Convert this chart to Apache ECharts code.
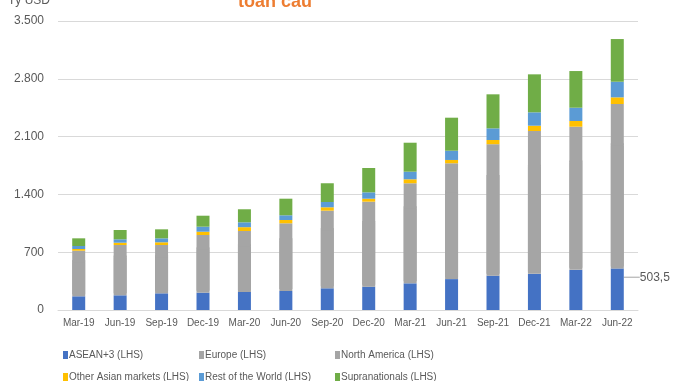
<!DOCTYPE html>
<html>
<head>
<meta charset="utf-8">
<script src="https://cdn.jsdelivr.net/npm/echarts@6/dist/echarts.min.js"></script>
<style>html,body{margin:0;padding:0;background:#fff}#c{width:678px;height:381px}</style>
</head>
<body>
<div id="c"></div>
<script>
const categories = ['Mar-19','Jun-19','Sep-19','Dec-19','Mar-20','Jun-20','Sep-20','Dec-20','Mar-21','Jun-21','Sep-21','Dec-21','Mar-22','Jun-22'];
const asean = [166,178,202,210,218,230,263,282,323,374,415,438,486,503.5];
const europe = [414,457,439,524,554,615,705,773,909,1052,1195,1298,1301,1493];
const northAmerica = [138,152,146,174,185,205,235,257,303,351,398,432,433,498];
const otherAsian = [21,28,33,40,46,40,41,36,48,40,51,64,69,81];
const restOfWorld = [36,41,48,61,59,57,64,77,92,112,141,162,161,189];
const supranationals = [93,113,109,133,158,201,227,295,351,400,412,460,444,517];
const yTicks = [0,700,1400,2100,2800,3500];

const txt = '#595959';
const font = 'Liberation Sans, Arial, sans-serif';
const names = ['ASEAN+3 (LHS)','Europe (LHS)','North America (LHS)','Other Asian markets (LHS)','Rest of the World (LHS)','Supranationals (LHS)'];
const colors = ['#4472C4','#A5A5A5','#A5A5A5','#FFC000','#5B9BD5','#70AD47'];
const datas = [asean, europe, northAmerica, otherAsian, restOfWorld, supranationals];

const lastIdx = categories.length - 1;
const series = datas.map((d, i) => {
  const s = {
    name: names[i], type: 'bar', stack: 'total', barWidth: 13,
    itemStyle: (i === 1) ? { color: colors[i], shadowColor: colors[i], shadowBlur: 0, shadowOffsetY: -2 } : { color: colors[i] },
    data: d.slice()
  };
  if (i === 0) {
    s.data = d.map((v, j) => j === lastIdx ? {
      value: v,
      label: { show: true, position: 'right', distance: 0,
        formatter: p => String(p.value).replace('.', ','),
        color: txt, fontFamily: font, fontSize: 12 },
      labelLine: { show: true, lineStyle: { color: '#A5A5A5', width: 1 } }
    } : v);
    s.labelLayout = { dx: 16, dy: -12 };
    s.labelLine = { show: true, lineStyle: { color: '#A5A5A5', width: 1 } };
  }
  return s;
});

const legendPos = [[63,350],[199,350],[335,350],[63,372],[199,372],[335,372]];
const legends = names.map((n, i) => ({
  data: [n], left: legendPos[i][0], top: legendPos[i][1], padding: 0,
  itemWidth: 5, itemHeight: 8, itemGap: 4, icon: 'rect',
  itemStyle: { borderWidth: 0, shadowOffsetY: 0, shadowBlur: 0, shadowColor: 'transparent' },
  textStyle: { color: txt, fontFamily: font, fontSize: 10, padding: [0,0,0,-4] },
  selectedMode: false
}));

const chart = echarts.init(document.getElementById('c'));
chart.setOption({
  animation: false,
  title: { text: 'toàn cầu', left: 233, top: -12,
    textStyle: { color: '#ED7D31', fontFamily: font, fontSize: 18, fontWeight: 'bold' } },
  graphic: [{ type: 'text', left: 8, top: -5,
    style: { text: 'Tỷ USD', fill: txt, font: '12px Liberation Sans, Arial, sans-serif' } }],
  legend: legends,
  grid: { left: 58, right: 40, top: 21, bottom: 71 },
  xAxis: {
    type: 'category', data: categories,
    axisLine: { lineStyle: { color: '#D9D9D9' } },
    axisTick: { show: false },
    axisLabel: { color: txt, fontFamily: font, fontSize: 10, margin: 8, interval: 0 }
  },
  yAxis: {
    type: 'value', min: 0, max: 3500, interval: 700,
    axisLine: { show: false }, axisTick: { show: false },
    splitLine: { lineStyle: { color: '#D9D9D9' } },
    axisLabel: { color: txt, fontFamily: font, fontSize: 12, margin: 14,
      formatter: v => yTicks.includes(v) ? String(v).replace(/\B(?=(\d{3})+(?!\d))/g, '.') : '' }
  },
  series: series
});
</script>
</body>
</html>
